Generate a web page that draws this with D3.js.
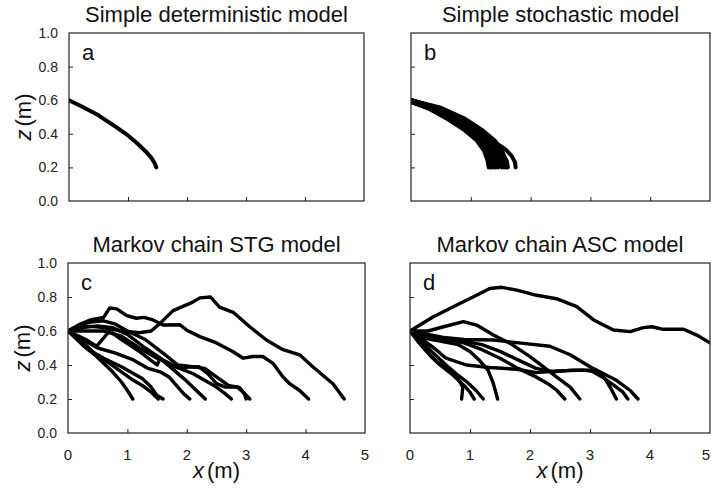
<!DOCTYPE html>
<html>
<head>
<meta charset="utf-8">
<script src="https://cdn.jsdelivr.net/npm/d3@7"></script>
<style>
  body { margin: 0; background: #fff; }
  svg { display: block; font-family: "Liberation Sans", Arial, sans-serif; }
</style>
</head>
<body>
<svg id="chart" width="711" height="495"></svg>
<script>
/* tick values */
var xTicks = [0, 1, 2, 3, 4, 5];
var yTicks = [0, 0.2, 0.4, 0.6, 0.8, 1.0];

/* a: simple deterministic model, one trajectory [x, z] */
var trajA = [
  [[0, 0.6], [0.2, 0.565], [0.5, 0.51], [0.8, 0.44], [1.0, 0.39], [1.15, 0.345], [1.3, 0.295], [1.4, 0.255], [1.46, 0.22], [1.48, 0.2]]
];

/* b: simple stochastic model */
var trajB = [
  [[0, 0.6], [0.3, 0.55], [0.6, 0.49], [0.9, 0.42], [1.1, 0.36], [1.22, 0.3], [1.28, 0.24], [1.3, 0.2]],
  [[0, 0.6], [0.3, 0.56], [0.6, 0.505], [0.9, 0.44], [1.15, 0.38], [1.3, 0.31], [1.37, 0.25], [1.38, 0.2]],
  [[0, 0.6], [0.35, 0.56], [0.7, 0.5], [1.0, 0.44], [1.2, 0.38], [1.36, 0.31], [1.44, 0.25], [1.46, 0.2]],
  [[0, 0.59], [0.35, 0.545], [0.7, 0.485], [1.0, 0.42], [1.25, 0.36], [1.42, 0.3], [1.5, 0.24], [1.52, 0.2]],
  [[0, 0.6], [0.4, 0.56], [0.8, 0.49], [1.1, 0.43], [1.3, 0.37], [1.46, 0.31], [1.55, 0.25], [1.58, 0.2]],
  [[0, 0.6], [0.4, 0.555], [0.8, 0.485], [1.1, 0.42], [1.32, 0.36], [1.5, 0.3], [1.6, 0.24], [1.62, 0.2]],
  [[0, 0.6], [0.45, 0.55], [0.85, 0.48], [1.15, 0.41], [1.4, 0.35], [1.57, 0.31], [1.68, 0.27], [1.74, 0.23], [1.75, 0.2]],
  [[0, 0.59], [0.3, 0.55], [0.6, 0.495], [0.9, 0.43], [1.12, 0.36], [1.27, 0.28], [1.32, 0.22], [1.34, 0.2]],
  [[0, 0.6], [0.25, 0.565], [0.55, 0.515], [0.85, 0.455], [1.1, 0.39], [1.28, 0.32], [1.38, 0.26], [1.42, 0.2]],
  [[0, 0.6], [0.35, 0.565], [0.75, 0.505], [1.05, 0.445], [1.3, 0.38], [1.45, 0.32], [1.52, 0.26], [1.55, 0.2]],
  [[0, 0.59], [0.4, 0.54], [0.75, 0.475], [1.0, 0.41], [1.2, 0.34], [1.3, 0.27], [1.34, 0.2]],
  [[0, 0.6], [0.5, 0.555], [0.9, 0.49], [1.2, 0.42], [1.4, 0.36], [1.52, 0.3], [1.58, 0.25], [1.6, 0.2]]
];

/* c: Markov chain STG model */
var trajC = [
  [[0, 0.6], [0.3, 0.63], [0.6, 0.62], [0.9, 0.6], [1.2, 0.59], [1.4, 0.6], [1.55, 0.645], [1.77, 0.72], [2.1, 0.77], [2.22, 0.795], [2.4, 0.8], [2.55, 0.74], [2.78, 0.71], [3.06, 0.625], [3.34, 0.547], [3.62, 0.49], [3.9, 0.46], [4.12, 0.39], [4.29, 0.34], [4.46, 0.29], [4.65, 0.2]],
  [[0, 0.6], [0.2, 0.64], [0.37, 0.665], [0.6, 0.68], [0.7, 0.735], [0.82, 0.73], [0.99, 0.69], [1.15, 0.675], [1.28, 0.68], [1.43, 0.665], [1.6, 0.635], [1.88, 0.637], [2.0, 0.605], [2.22, 0.567], [2.5, 0.53], [2.78, 0.478], [2.95, 0.44], [3.11, 0.45], [3.28, 0.45], [3.45, 0.41], [3.62, 0.33], [3.73, 0.29], [3.9, 0.25], [4.05, 0.2]],
  [[0, 0.6], [0.3, 0.65], [0.6, 0.66], [0.8, 0.64], [1.0, 0.6], [1.3, 0.55], [1.6, 0.47], [1.85, 0.4], [2.1, 0.39], [2.3, 0.38], [2.5, 0.33], [2.7, 0.28], [2.85, 0.27], [2.95, 0.24], [3.06, 0.2]],
  [[0, 0.6], [0.25, 0.62], [0.5, 0.63], [0.75, 0.62], [1.0, 0.58], [1.3, 0.5], [1.6, 0.43], [1.85, 0.385], [2.2, 0.39], [2.35, 0.35], [2.5, 0.29], [2.65, 0.27], [2.88, 0.27], [2.97, 0.23], [3.0, 0.2]],
  [[0, 0.6], [0.3, 0.6], [0.6, 0.6], [0.9, 0.57], [1.2, 0.5], [1.5, 0.44], [1.8, 0.39], [2.1, 0.35], [2.3, 0.31], [2.5, 0.27], [2.65, 0.23], [2.75, 0.2]],
  [[0, 0.6], [0.3, 0.55], [0.48, 0.51], [0.7, 0.6], [0.9, 0.55], [1.2, 0.48], [1.5, 0.4], [1.55, 0.44], [1.75, 0.38], [1.95, 0.32], [2.1, 0.27], [2.25, 0.22], [2.31, 0.2]],
  [[0, 0.6], [0.25, 0.55], [0.5, 0.5], [0.8, 0.47], [1.1, 0.43], [1.35, 0.38], [1.55, 0.36], [1.7, 0.33], [1.85, 0.27], [1.95, 0.23], [2.05, 0.2]],
  [[0, 0.6], [0.2, 0.55], [0.4, 0.48], [0.6, 0.44], [0.9, 0.39], [1.1, 0.35], [1.25, 0.32], [1.4, 0.27], [1.5, 0.22], [1.6, 0.2]],
  [[0, 0.6], [0.2, 0.55], [0.35, 0.5], [0.5, 0.45], [0.7, 0.41], [0.9, 0.36], [1.1, 0.31], [1.25, 0.28], [1.4, 0.24], [1.52, 0.2]],
  [[0, 0.6], [0.15, 0.55], [0.3, 0.5], [0.45, 0.46], [0.6, 0.41], [0.75, 0.36], [0.9, 0.3], [1.0, 0.25], [1.09, 0.2]]
];

/* d: Markov chain ASC model */
var trajD = [
  [[0, 0.6], [0.39, 0.684], [0.78, 0.753], [1.11, 0.81], [1.33, 0.85], [1.53, 0.857], [1.78, 0.84], [2.11, 0.81], [2.44, 0.79], [2.78, 0.743], [3.06, 0.665], [3.39, 0.606], [3.67, 0.596], [3.89, 0.62], [4.03, 0.625], [4.22, 0.61], [4.56, 0.61], [4.78, 0.576], [5.0, 0.53]],
  [[0, 0.6], [0.3, 0.6], [0.56, 0.625], [0.89, 0.655], [1.11, 0.635], [1.39, 0.576], [1.67, 0.527], [2.0, 0.449], [2.22, 0.39], [2.44, 0.33], [2.67, 0.27], [2.83, 0.2]],
  [[0, 0.6], [0.3, 0.58], [0.6, 0.56], [0.9, 0.55], [1.39, 0.547], [1.89, 0.527], [2.33, 0.51], [2.67, 0.46], [3.0, 0.39], [3.22, 0.35], [3.44, 0.31], [3.67, 0.25], [3.8, 0.2]],
  [[0, 0.6], [0.3, 0.57], [0.6, 0.555], [0.9, 0.54], [1.2, 0.52], [1.5, 0.48], [1.8, 0.43], [2.1, 0.38], [2.4, 0.36], [2.7, 0.37], [3.0, 0.37], [3.2, 0.33], [3.4, 0.28], [3.55, 0.24], [3.63, 0.2]],
  [[0, 0.6], [0.2, 0.55], [0.4, 0.5], [0.6, 0.44], [0.94, 0.4], [1.33, 0.385], [1.78, 0.375], [2.11, 0.355], [2.44, 0.365], [2.89, 0.37], [3.11, 0.36], [3.25, 0.32], [3.35, 0.26], [3.44, 0.2]],
  [[0, 0.6], [0.3, 0.57], [0.6, 0.55], [0.9, 0.53], [1.2, 0.49], [1.5, 0.44], [1.8, 0.38], [2.1, 0.33], [2.3, 0.29], [2.45, 0.25], [2.58, 0.2]],
  [[0, 0.6], [0.2, 0.56], [0.5, 0.54], [0.8, 0.52], [1.0, 0.48], [1.15, 0.43], [1.3, 0.37], [1.38, 0.3], [1.43, 0.24], [1.46, 0.2]],
  [[0, 0.6], [0.15, 0.55], [0.3, 0.5], [0.45, 0.45], [0.6, 0.4], [0.8, 0.34], [0.95, 0.3], [1.1, 0.25], [1.22, 0.2]],
  [[0, 0.6], [0.15, 0.53], [0.3, 0.47], [0.45, 0.42], [0.6, 0.38], [0.75, 0.33], [0.9, 0.28], [1.0, 0.24], [1.07, 0.2]],
  [[0, 0.6], [0.2, 0.52], [0.35, 0.45], [0.5, 0.4], [0.65, 0.36], [0.8, 0.32], [0.88, 0.27], [0.86, 0.2]]
];

var panels = [
  {id: "a", title: "Simple deterministic model", data: trajA, left: 69, right: 364, top: 33, bottom: 201, yLab: true, xLab: false, sw: 4},
  {id: "b", title: "Simple stochastic model", data: trajB, left: 411, right: 710, top: 33, bottom: 201, yLab: false, xLab: false, sw: 4},
  {id: "c", title: "Markov chain STG model", data: trajC, left: 68, right: 365, top: 263, bottom: 433, yLab: true, xLab: true, sw: 3.4},
  {id: "d", title: "Markov chain ASC model", data: trajD, left: 410, right: 710, top: 263, bottom: 433, yLab: false, xLab: true, sw: 3.4}
];

var svg = d3.select("#chart");

panels.forEach(function(p) {
  var x = d3.scaleLinear().domain([0, 5]).range([p.left, p.right]);
  var y = d3.scaleLinear().domain([0, 1]).range([p.bottom, p.top]);
  var g = svg.append("g");

  // clip so the trajectory leaving at x=5 is cut by the frame
  g.append("clipPath").attr("id", "clip" + p.id)
    .append("rect").attr("x", p.left).attr("y", p.top)
    .attr("width", p.right - p.left).attr("height", p.bottom - p.top);

  var line = d3.line().x(function(d){ return x(d[0]); }).y(function(d){ return y(d[1]); });
  g.append("g").attr("clip-path", "url(#clip" + p.id + ")")
    .selectAll("path").data(p.data).enter().append("path")
    .attr("d", line)
    .attr("fill", "none").attr("stroke", "#000")
    .attr("stroke-width", p.sw)
    .attr("stroke-linejoin", "round").attr("stroke-linecap", "round");

  // inward ticks
  var xAxis = d3.axisBottom(x).tickValues(xTicks.slice(1, -1)).tickSizeInner(-4).tickSizeOuter(0).tickFormat("");
  var yAxis = d3.axisLeft(y).tickValues(yTicks.slice(1, -1)).tickSizeInner(-4).tickSizeOuter(0).tickFormat("");
  g.append("g").attr("transform", "translate(0," + p.bottom + ")").call(xAxis)
    .call(function(s){ s.select(".domain").remove(); s.selectAll("line").attr("stroke", "#222"); });
  g.append("g").attr("transform", "translate(" + p.left + ",0)").call(yAxis)
    .call(function(s){ s.select(".domain").remove(); s.selectAll("line").attr("stroke", "#222"); });

  g.append("rect").attr("x", p.left).attr("y", p.top)
    .attr("width", p.right - p.left).attr("height", p.bottom - p.top)
    .attr("fill", "none").attr("stroke", "#222").attr("stroke-width", 1.2);

  g.append("text").attr("x", (p.left + p.right) / 2).attr("y", p.top - 11)
    .attr("text-anchor", "middle").attr("font-size", 22).attr("fill", "#111")
    .text(p.title);

  g.append("text").attr("x", p.left + 13).attr("y", p.top + 27)
    .attr("font-size", 22).attr("fill", "#111").text(p.id);

  if (p.yLab) {
    g.selectAll(".ylab").data(yTicks).enter().append("text")
      .attr("x", p.left - 11).attr("y", function(d){ return y(d) + 5; })
      .attr("text-anchor", "end").attr("font-size", 14).attr("fill", "#222")
      .text(function(d){ return d.toFixed(1); });
    var t = g.append("text")
      .attr("transform", "translate(" + (p.left - 38) + "," + ((p.top + p.bottom) / 2) + ") rotate(-90)")
      .attr("text-anchor", "middle").attr("font-size", 22).attr("fill", "#111");
    t.append("tspan").attr("font-style", "italic").text("z");
    t.append("tspan").attr("dx", 3).text("(m)");
  }
  if (p.xLab) {
    g.selectAll(".xlab").data(xTicks).enter().append("text")
      .attr("x", function(d){ return Math.min(x(d), 711 - 5); }).attr("y", p.bottom + 27)
      .attr("text-anchor", "middle").attr("font-size", 15).attr("fill", "#222")
      .text(function(d){ return d; });
    var tx = g.append("text")
      .attr("x", (p.left + p.right) / 2).attr("y", p.bottom + 45)
      .attr("text-anchor", "middle").attr("font-size", 22).attr("fill", "#111");
    tx.append("tspan").attr("font-style", "italic").text("x");
    tx.append("tspan").attr("dx", 3).text("(m)");
  }
});
</script>
</body>
</html>
